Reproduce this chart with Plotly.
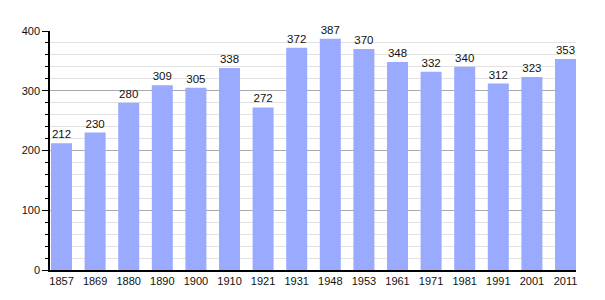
import plotly.graph_objects as go

years = ["1857", "1869", "1880", "1890", "1900", "1910", "1921", "1931",
         "1948", "1953", "1961", "1971", "1981", "1991", "2001", "2011"]
population = [212, 230, 280, 309, 305, 338, 272, 372, 387, 370, 348, 332, 340, 312, 323, 353]
y_ticks = [0, 100, 200, 300, 400]

pos = list(range(len(years)))
bw = 0.625
FONT = "Liberation Sans, Arial, sans-serif"

fig = go.Figure(go.Bar(
    x=pos, y=population, width=bw,
    marker=dict(color="#99aaff", line=dict(width=0)),
    text=[str(v) for v in population], textposition="outside",
    textfont=dict(family=FONT, size=11.5, color="#111111"),
    cliponaxis=False,
))

fig.update_layout(
    width=605, height=300,
    margin=dict(l=50, r=29, t=31, b=30),
    paper_bgcolor="white", plot_bgcolor="white",
    showlegend=False,
    font=dict(family=FONT, size=11, color="#111111"),
    xaxis=dict(
        range=[-bw / 2 - 0.03, len(years) - 1 + bw / 2],
        tickmode="array", tickvals=pos, ticktext=years,
        showgrid=False, zeroline=False,
        showline=True, linecolor="black", linewidth=1.5,
        ticks="", tickfont=dict(size=11),
    ),
    yaxis=dict(
        range=[0, 400], tickmode="array", tickvals=y_ticks,
        showgrid=True, gridcolor="#aaaaaa", gridwidth=1,
        zeroline=False,
        showline=True, linecolor="black", linewidth=1.5,
        ticks="outside", ticklen=6, tickcolor="black", tickwidth=1,
        tickfont=dict(size=11),
        minor=dict(dtick=20, showgrid=True, gridcolor="#e2e2e2", gridwidth=1,
                   ticks="outside", ticklen=3, tickcolor="black", tickwidth=1),
    ),
)

fig.write_html("out.html")
